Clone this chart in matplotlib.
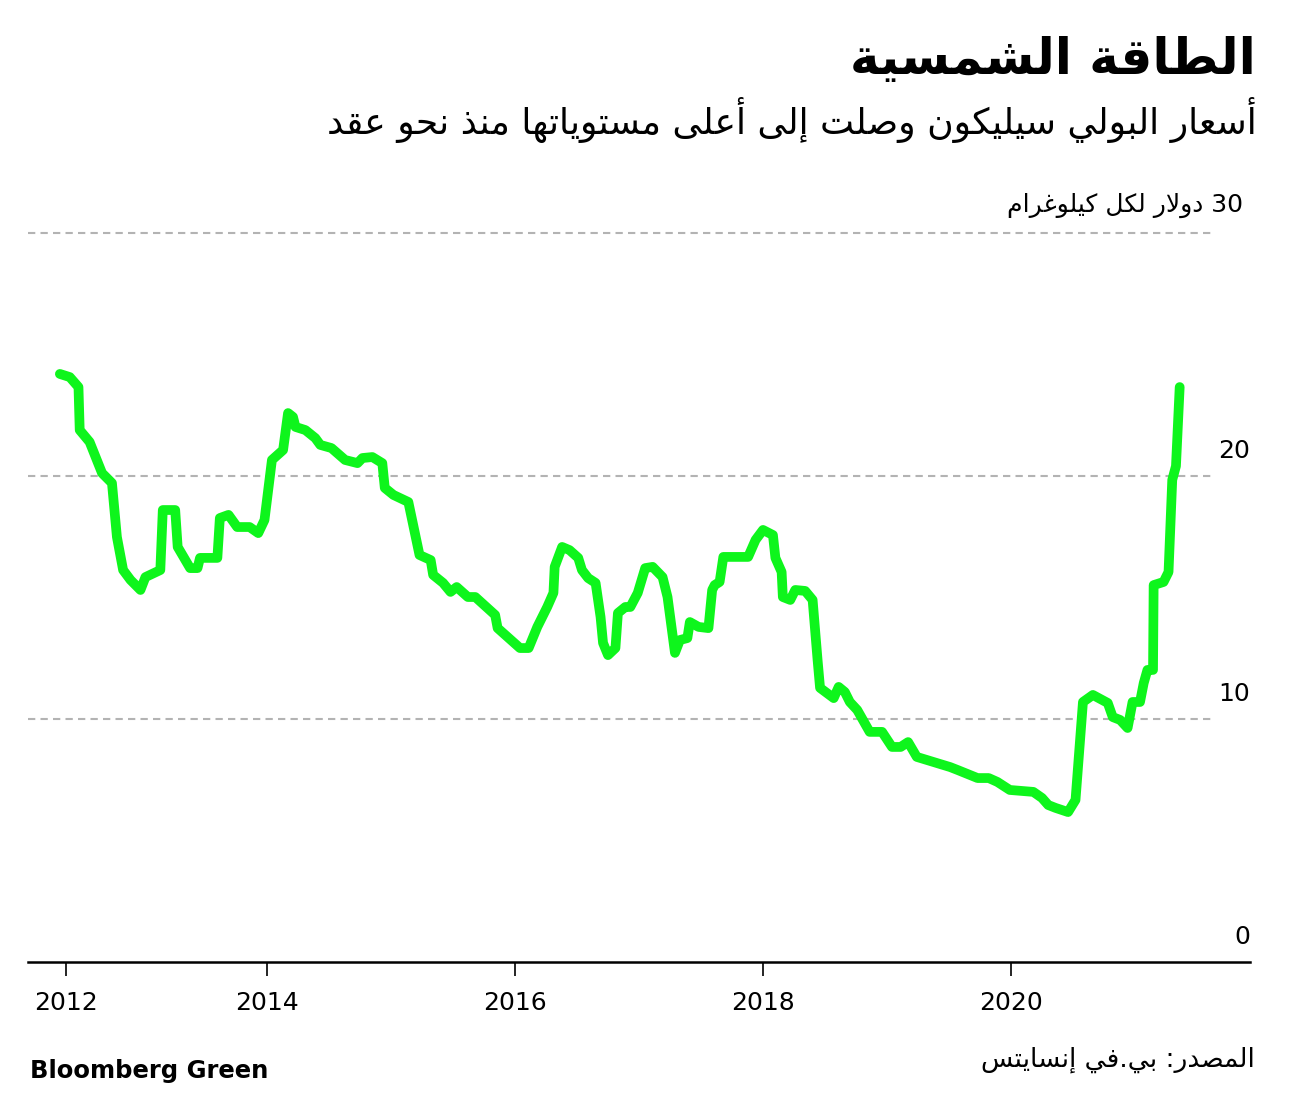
import matplotlib
matplotlib.use("Agg")
import matplotlib.pyplot as plt

# data: decimal year, price in $/kg
years = [2012.33, 2012.41, 2012.48, 2012.49, 2012.57, 2012.67, 2012.75, 2012.79, 2012.84, 2012.90,
         2012.98, 2013.02, 2013.14, 2013.16, 2013.26, 2013.28, 2013.38, 2013.44, 2013.46, 2013.60,
         2013.62, 2013.69, 2013.76, 2013.86, 2013.93, 2013.98, 2014.04, 2014.13, 2014.17, 2014.21,
         2014.23, 2014.31, 2014.39, 2014.43, 2014.52, 2014.63, 2014.73, 2014.77, 2014.85, 2014.93,
         2014.95, 2015.02, 2015.14, 2015.23, 2015.32, 2015.34, 2015.42, 2015.48, 2015.53, 2015.62,
         2015.68, 2015.84, 2015.86, 2016.04, 2016.11, 2016.18, 2016.26, 2016.31, 2016.32, 2016.38,
         2016.44, 2016.51, 2016.54, 2016.59, 2016.65, 2016.69, 2016.71, 2016.75, 2016.81, 2016.83,
         2016.89, 2016.93, 2016.99, 2017.05, 2017.11, 2017.19, 2017.23, 2017.29, 2017.33, 2017.39,
         2017.41, 2017.48, 2017.56, 2017.59, 2017.61, 2017.65, 2017.68, 2017.88, 2017.94, 2018.00,
         2018.08, 2018.10, 2018.15, 2018.16, 2018.22, 2018.26, 2018.34, 2018.40, 2018.44, 2018.46,
         2018.57, 2018.61, 2018.66, 2018.70, 2018.76, 2018.86, 2018.96, 2019.04, 2019.11, 2019.17,
         2019.24, 2019.51, 2019.57, 2019.73, 2019.82, 2019.89, 2019.99, 2020.18, 2020.25, 2020.30,
         2020.36, 2020.46, 2020.52, 2020.54, 2020.58, 2020.66, 2020.78, 2020.82, 2020.88, 2020.94,
         2020.98, 2021.04, 2021.07, 2021.10, 2021.145, 2021.15, 2021.23, 2021.27, 2021.30, 2021.33,
         2021.36]
prices = [24.20, 24.07, 23.66, 21.89, 21.40, 20.12, 19.71, 17.49, 16.13, 15.72,
          15.31, 15.84, 16.13, 18.60, 18.60, 17.08, 16.21, 16.21, 16.63, 16.63,
          18.27, 18.40, 17.90, 17.90, 17.65, 18.19, 20.66, 21.07, 22.59, 22.43,
          22.02, 21.89, 21.56, 21.28, 21.15, 20.66, 20.53, 20.74, 20.78, 20.53,
          19.51, 19.22, 18.93, 16.75, 16.54, 15.93, 15.60, 15.23, 15.43, 15.02,
          15.02, 14.28, 13.74, 12.92, 12.92, 13.79, 14.61, 15.19, 16.26, 17.08,
          16.95, 16.63, 16.13, 15.80, 15.60, 14.20, 13.13, 12.63, 12.92, 14.36,
          14.61, 14.61, 15.19, 16.21, 16.26, 15.84, 15.02, 12.72, 13.25, 13.33,
          13.99, 13.79, 13.74, 15.31, 15.51, 15.64, 16.67, 16.67, 17.37, 17.78,
          17.57, 16.63, 16.05, 15.02, 14.90, 15.31, 15.27, 14.90, 12.43, 11.28,
          10.86, 11.32, 11.11, 10.70, 10.37, 9.47, 9.47, 8.85, 8.85, 9.05,
          8.44, 8.02, 7.90, 7.57, 7.57, 7.41, 7.08, 7.00, 6.75, 6.46,
          6.34, 6.17, 6.67, 8.02, 10.70, 10.99, 10.66, 10.08, 9.96, 9.63,
          10.70, 10.70, 11.48, 12.02, 12.02, 15.51, 15.64, 16.05, 19.84, 20.41,
          23.66]

x_tick_pos = [2012.38, 2014, 2016, 2018, 2020]
x_tick_labels = ["2012", "2014", "2016", "2018", "2020"]
y_ticks = [0, 10, 20, 30]

title = "الطاقة الشمسية"
subtitle = "أسعار البولي سيليكون وصلت إلى أعلى مستوياتها منذ نحو عقد"
unit_label = "30 دولار لكل كيلوغرام"
source = "المصدر: بي.في إنسايتس"

# --- minimal arabic shaping (matplotlib has no complex text layout) ---
forms = {
    'ء': ('\uFE80', None, None, None),
    'آ': ('\uFE81', '\uFE82', None, None),
    'أ': ('\uFE83', '\uFE84', None, None),
    'ؤ': ('\uFE85', '\uFE86', None, None),
    'إ': ('\uFE87', '\uFE88', None, None),
    'ئ': ('\uFE89', '\uFE8A', '\uFE8B', '\uFE8C'),
    'ا': ('\uFE8D', '\uFE8E', None, None),
    'ب': ('\uFE8F', '\uFE90', '\uFE91', '\uFE92'),
    'ة': ('\uFE93', '\uFE94', None, None),
    'ت': ('\uFE95', '\uFE96', '\uFE97', '\uFE98'),
    'ث': ('\uFE99', '\uFE9A', '\uFE9B', '\uFE9C'),
    'ج': ('\uFE9D', '\uFE9E', '\uFE9F', '\uFEA0'),
    'ح': ('\uFEA1', '\uFEA2', '\uFEA3', '\uFEA4'),
    'خ': ('\uFEA5', '\uFEA6', '\uFEA7', '\uFEA8'),
    'د': ('\uFEA9', '\uFEAA', None, None),
    'ذ': ('\uFEAB', '\uFEAC', None, None),
    'ر': ('\uFEAD', '\uFEAE', None, None),
    'ز': ('\uFEAF', '\uFEB0', None, None),
    'س': ('\uFEB1', '\uFEB2', '\uFEB3', '\uFEB4'),
    'ش': ('\uFEB5', '\uFEB6', '\uFEB7', '\uFEB8'),
    'ص': ('\uFEB9', '\uFEBA', '\uFEBB', '\uFEBC'),
    'ض': ('\uFEBD', '\uFEBE', '\uFEBF', '\uFEC0'),
    'ط': ('\uFEC1', '\uFEC2', '\uFEC3', '\uFEC4'),
    'ظ': ('\uFEC5', '\uFEC6', '\uFEC7', '\uFEC8'),
    'ع': ('\uFEC9', '\uFECA', '\uFECB', '\uFECC'),
    'غ': ('\uFECD', '\uFECE', '\uFECF', '\uFED0'),
    'ف': ('\uFED1', '\uFED2', '\uFED3', '\uFED4'),
    'ق': ('\uFED5', '\uFED6', '\uFED7', '\uFED8'),
    'ك': ('\uFED9', '\uFEDA', '\uFEDB', '\uFEDC'),
    'ل': ('\uFEDD', '\uFEDE', '\uFEDF', '\uFEE0'),
    'م': ('\uFEE1', '\uFEE2', '\uFEE3', '\uFEE4'),
    'ن': ('\uFEE5', '\uFEE6', '\uFEE7', '\uFEE8'),
    'ه': ('\uFEE9', '\uFEEA', '\uFEEB', '\uFEEC'),
    'و': ('\uFEED', '\uFEEE', None, None),
    'ى': ('\uFEEF', '\uFEF0', None, None),
    'ي': ('\uFEF1', '\uFEF2', '\uFEF3', '\uFEF4'),
}
lam_alef = {'ا': ('\uFEFB', '\uFEFC'), 'أ': ('\uFEF7', '\uFEF8'),
            'إ': ('\uFEF9', '\uFEFA'), 'آ': ('\uFEF5', '\uFEF6')}


def joins_next(c):
    return c in forms and forms[c][2] is not None


def shape(text):
    # merge lam-alef first
    chars = []
    i = 0
    while i < len(text):
        if text[i] == 'ل' and i + 1 < len(text) and text[i + 1] in lam_alef:
            chars.append(('LA', text[i + 1]))
            i += 2
        else:
            chars.append(text[i])
            i += 1
    out = []
    for k, c in enumerate(chars):
        prev = chars[k - 1] if k > 0 else None
        nxt = chars[k + 1] if k + 1 < len(chars) else None
        prev_joins = isinstance(prev, str) and joins_next(prev)
        if isinstance(c, tuple):
            iso, fin = lam_alef[c[1]]
            out.append(fin if prev_joins else iso)
            continue
        if c not in forms:
            out.append(c)
            continue
        nxt_ok = nxt is not None and (isinstance(nxt, tuple) or nxt in forms)
        iso, fin, ini, med = forms[c]
        can_next = ini is not None and nxt_ok
        if prev_joins and can_next:
            out.append(med)
        elif prev_joins:
            out.append(fin)
        elif can_next:
            out.append(ini)
        else:
            out.append(iso)
    # visual order: reverse, keep digit / latin runs left-to-right
    out = out[::-1]
    res = []
    run = []
    for g in out:
        if g.isascii() and g.isalnum():
            run.append(g)
        else:
            if run:
                res.extend(run[::-1])
                run = []
            res.append(g)
    res.extend(run[::-1])
    return "".join(res)


W, H = 1297, 1099
fig = plt.figure(figsize=(W / 100, H / 100), dpi=100)
fig.patch.set_facecolor("white")

ax = fig.add_axes([28 / W, 1 - 962 / H, (1250 - 28) / W, (962 - 233) / H])
ax.set_xlim(2012.073, 2021.927)
ax.set_ylim(0, 30)

for y in y_ticks[1:]:
    ax.axhline(y, xmin=0, xmax=0.97, color="#b3b3b3", lw=1.5, ls=(0, (3.5, 2.5)), clip_on=False, zorder=1)

ax.plot(years, prices, color="#0ef51c", lw=7, solid_capstyle="round", solid_joinstyle="round", zorder=3)

for s in ["top", "right", "left"]:
    ax.spines[s].set_visible(False)
ax.spines["bottom"].set_linewidth(1.8)
ax.spines["bottom"].set_color("black")

ax.set_yticks([])
ax.set_xticks(x_tick_pos)
ax.set_xticklabels(x_tick_labels, fontsize=18, family="DejaVu Sans")
ax.tick_params(axis="x", length=10, width=1.2, color="black", pad=11)

for y in y_ticks[:3]:
    ax.text(1.0, y + 0.55, str(y), transform=ax.get_yaxis_transform(), ha="right", va="bottom",
            fontsize=18)

ax.text(1243 / W, 1 - 205 / H, shape(unit_label), transform=fig.transFigure, ha="right", va="center",
        fontsize=18)

fig.text(1256 / W, 1 - 60 / H, shape(title), ha="right", va="center", fontsize=36, fontweight="bold")
fig.text(1257 / W, 1 - 120 / H, shape(subtitle), ha="right", va="center", fontsize=26)
fig.text(1255 / W, 1 - 1060 / H, shape(source), ha="right", va="center", fontsize=19)
fig.text(30 / W, 1 - 1071 / H, "Bloomberg Green", ha="left", va="center", fontsize=17.5, fontweight="bold")

fig.savefig("out.png", dpi=100, facecolor="white")
